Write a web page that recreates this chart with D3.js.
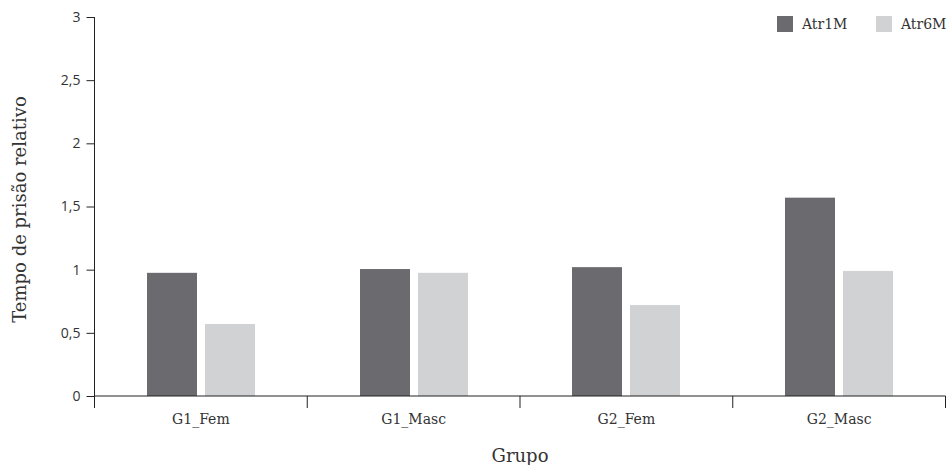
<!DOCTYPE html>
<html><head><meta charset="utf-8">
<script src="https://cdn.jsdelivr.net/npm/d3@7"></script>
<style>body{margin:0;background:#fff;} svg{display:block;}</style>
</head><body>
<svg id="c" width="949" height="465"></svg>
<script>
const categories = ["G1_Fem","G1_Masc","G2_Fem","G2_Masc"];
const seriesNames = ["Atr1M","Atr6M"];
const atr1M = [0.975, 1.005, 1.02, 1.57];
const atr6M = [0.57, 0.975, 0.72, 0.99];
const yTicks = [0,0.5,1,1.5,2,2.5,3];
const colors = ["#6b6b6f","#d1d2d4"];

const svg = d3.select("#c");
const m = {l:94.5, r:3.5, t:17, b:69};
const W = 949, H = 465;
const x = d3.scaleBand().domain(categories).range([m.l, W - m.r]);
const y = d3.scaleLinear().domain([0,3]).range([H - m.b, m.t]);
const serif = "'DejaVu Serif', 'Liberation Serif', serif";
const sans = "'Open Sans', 'DejaVu Sans', sans-serif";

// bars
const barW = 50, gap = 8;
const data = categories.map((c,i)=>({c, v:[atr1M[i], atr6M[i]]}));
data.forEach(d=>{
  d.v.forEach((v,j)=>{
    const cx = Math.round(x(d.c) + x.bandwidth()/2);
    const bx = j===0 ? cx - gap/2 - barW : cx + gap/2;
    svg.append("rect").attr("x", bx).attr("y", y(v)).attr("width", barW)
      .attr("height", y(0) - y(v)).attr("fill", colors[j]);
  });
});

// y axis
const ya = svg.append("g").attr("transform",`translate(${m.l},0)`)
  .call(d3.axisLeft(y).tickValues(yTicks).tickSize(8).tickPadding(6)
    .tickFormat(d=>String(d).replace(".",",")));
ya.select(".domain").attr("d", `M0,${y(3)}V${y(0)+12}`).attr("stroke","#222");
ya.selectAll(".tick line").attr("stroke","#222");
ya.selectAll("text").attr("font-family", sans).attr("font-size", 14).attr("fill","#333");

// x axis
const xa = svg.append("g").attr("transform",`translate(0,${y(0)})`)
  .call(d3.axisBottom(x).tickSize(0).tickPadding(18));
xa.select(".domain").attr("d", `M${m.l},0H${W - m.r}`).attr("stroke","#222");
xa.selectAll("text").attr("font-family", serif).attr("font-size", 14).attr("fill","#333");
const bounds = categories.map(c=>x(c)).concat([W - m.r]);
svg.append("g").selectAll("line").data(bounds.slice(1)).join("line")
  .attr("x1", d=>d).attr("x2", d=>d).attr("y1", y(0)).attr("y2", y(0)+12)
  .attr("stroke","#222");

// titles
svg.append("text").attr("x", (m.l + W - m.r)/2).attr("y", 462)
  .attr("text-anchor","middle").attr("font-family", serif).attr("font-size", 18)
  .attr("fill","#333").text("Grupo");
svg.append("text").attr("transform", `translate(26,${(y(0)+y(3))/2+3}) rotate(-90)`)
  .attr("text-anchor","middle").attr("font-family", serif).attr("font-size", 18)
  .attr("fill","#333").text("Tempo de prisão relativo");

// legend
const lx = [777, 876];
seriesNames.forEach((s,i)=>{
  svg.append("rect").attr("x", lx[i]).attr("y", 16).attr("width", 16).attr("height", 16).attr("fill", colors[i]);
  svg.append("text").attr("x", lx[i]+25).attr("y", 29).attr("font-family", serif)
    .attr("font-size", 14).attr("fill","#333").text(s);
});
</script>
</body></html>
